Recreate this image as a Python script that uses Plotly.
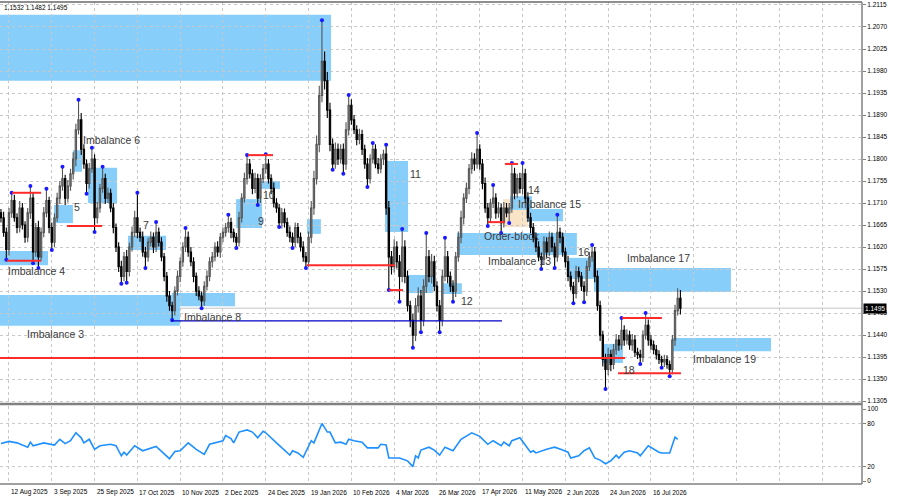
import plotly.graph_objects as go

# EURUSD daily. Prices in pips above 1.1000, bar 0 = 12 Aug 2025
first_bar = -3
first_open = 690

closes = [
    680, 650, 615, 690, 715, 680, 660, 700, 665, 640,
    690, 720, 610, 660, 600, 650, 690, 715, 660, 630,
    680, 720, 745, 760, 720, 745, 770, 800, 860, 880,
    820, 790, 750, 780, 800, 680, 700, 740, 760, 720,
    730, 700, 660, 620, 580, 560, 600, 570, 620, 650,
    680, 650, 640, 610, 600, 630, 640, 620, 650, 630,
    600, 560, 520, 500, 490, 530, 560, 590, 620, 640,
    610, 590, 560, 530, 520, 510, 540, 560, 590, 600,
    620, 610, 640, 650, 660, 670, 650, 640, 630, 680,
    720, 760, 790, 770, 740, 760, 720, 760, 780, 790,
    760, 740, 710, 700, 670, 690, 670, 650, 640, 630,
    660, 640, 620, 600, 590, 640, 700, 760, 830, 930,
    1000, 960, 900, 830, 790, 820, 800, 820, 790, 860,
    910, 880, 860, 840, 850, 820, 790, 760, 800, 820,
    790, 780, 800, 810, 700, 600, 580, 620, 590, 560,
    620, 560, 500, 470, 440, 500, 520, 470, 540, 600,
    560, 590, 540, 500, 470, 560, 600, 560, 540, 530,
    600, 640, 680, 720, 740, 780, 800, 790, 820, 790,
    750, 700, 680, 710, 720, 690, 700, 670, 700, 690,
    700, 770, 730, 760, 740, 770, 720, 680, 660, 640,
    620, 600, 595, 630, 610, 640, 620, 600, 650, 640,
    610, 590, 560, 540, 525, 570, 560, 540, 530, 580,
    600, 610, 560, 500, 440, 390, 370, 400, 380, 410,
    430, 420, 450, 430, 440, 420, 430, 405, 400, 395,
    440, 460, 430, 420, 410, 400, 390, 385, 390, 380,
    370, 430, 490, 515, 495,
]

wick_up = [
    8, 12, 10, 10, 16, 12, 9, 14, 10, 8,
    10, 25, 12, 9, 14, 10, 12, 24, 8, 10,
    9, 11, 10, 24, 8, 12, 10, 14, 12, 41,
    14, 10, 9, 12, 23, 10, 12, 9, 24, 10,
    12, 9, 10, 8, 10, 12, 10, 14, 9, 12,
    14, 51, 10, 12, 10, 9, 12, 10, 21, 10,
    10, 8, 9, 10, 8, 10, 12, 9, 10, 19,
    12, 10, 9, 8, 10, 9, 10, 12, 9, 10,
    10, 12, 9, 10, 9, 16, 10, 8, 9, 12,
    10, 12, 18, 10, 9, 12, 10, 9, 10, 20,
    10, 9, 12, 10, 8, 10, 9, 10, 12, 10,
    10, 9, 10, 12, 10, 12, 14, 16, 18, 20,
    84, 20, 18, 15, 12, 14, 12, 10, 12, 15,
    21, 12, 10, 9, 12, 10, 9, 12, 10, 13,
    10, 12, 10, 9, 19, 14, 12, 16, 12, 14,
    37, 14, 12, 10, 14, 16, 18, 12, 14, 49,
    14, 16, 12, 10, 12, 14, 39, 12, 10, 12,
    10, 12, 14, 10, 12, 10, 14, 12, 33, 10,
    10, 12, 10, 9, 27, 10, 12, 9, 12, 10,
    10, 22, 12, 10, 12, 22, 10, 12, 10, 9,
    10, 12, 9, 12, 10, 12, 10, 9, 36, 10,
    10, 9, 12, 10, 9, 12, 10, 9, 10, 12,
    10, 14, 10, 12, 10, 9, 12, 14, 10, 12,
    12, 10, 25, 10, 12, 9, 12, 10, 9, 10,
    10, 25, 12, 10, 9, 10, 9, 8, 10, 9,
    8, 10, 12, 21, 17,
]

wick_dn = [
    10, 9, 21, 12, 10, 8, 12, 10, 9, 11,
    10, 12, 23, 10, 23, 8, 10, 9, 12, 16,
    10, 8, 12, 10, 14, 9, 10, 12, 15, 10,
    12, 10, 21, 10, 8, 29, 12, 10, 9, 12,
    10, 9, 12, 10, 11, 15, 10, 23, 10, 9,
    10, 12, 9, 10, 23, 10, 9, 12, 10, 9,
    9, 10, 12, 10, 19, 10, 9, 12, 10, 10,
    10, 9, 12, 10, 9, 15, 10, 9, 10, 12,
    9, 10, 12, 10, 9, 10, 12, 10, 12, 9,
    10, 9, 12, 10, 12, 10, 14, 10, 9, 10,
    10, 12, 9, 10, 9, 12, 10, 9, 10, 12,
    10, 12, 9, 10, 13, 10, 12, 14, 12, 16,
    14, 18, 16, 14, 12, 10, 12, 9, 20, 12,
    12, 10, 9, 12, 10, 12, 10, 17, 10, 9,
    9, 10, 9, 12, 14, 68, 16, 12, 14, 52,
    12, 14, 12, 14, 26, 12, 14, 24, 12, 14,
    12, 14, 10, 12, 24, 12, 10, 14, 12, 22,
    12, 10, 12, 14, 10, 12, 10, 14, 10, 12,
    12, 10, 17, 9, 10, 12, 10, 21, 10, 9,
    21, 10, 12, 9, 10, 12, 10, 9, 12, 10,
    10, 9, 20, 10, 12, 9, 10, 23, 10, 12,
    10, 12, 10, 9, 20, 10, 12, 10, 23, 10,
    9, 10, 12, 10, 12, 14, 40, 12, 14, 10,
    10, 12, 10, 12, 9, 10, 12, 10, 9, 14,
    10, 9, 12, 10, 9, 10, 9, 12, 10, 9,
    14, 10, 12, 10, 13,
]

frac_high_bars = [1, 8, 14, 20, 26, 31, 35, 48, 55, 66, 82, 89, 96, 117, 127, 136,
                  141, 147, 156, 163, 175, 181, 188, 192, 205, 218, 229, 238]
frac_low_bars = [-1, 9, 11, 16, 29, 32, 42, 44, 51, 61, 72, 85, 93, 101, 106, 111,
                 121, 125, 134, 142, 146, 151, 154, 161, 166, 179, 184, 187, 199,
                 204, 211, 215, 223, 236, 244, 247]

rsi_bars = [-3, 0, 3, 7, 8, 9, 13, 15, 17, 19, 21, 23, 25, 27, 28, 30, 32, 34, 38, 40,
            42, 43, 44, 47, 50, 55, 58, 60, 62, 64, 67, 70, 73, 75, 80, 81, 83, 84, 86, 89,
            91, 93, 95, 96, 100, 103, 105, 106, 108, 110, 113, 114, 116, 117, 119, 120,
            122, 124, 126, 127, 129, 132, 134, 138, 139, 141, 142, 146, 149, 151, 152,
            153, 154, 157, 159, 161, 163, 166, 169, 173, 176, 179, 181, 184, 185, 187,
            188, 191, 193, 195, 196, 197, 201, 204, 207, 209, 210, 213, 215, 217, 219,
            221, 223, 225, 227, 228, 230, 232, 235, 236, 239, 241, 243, 244, 247, 249, 250]
rsi_values = [52, 55, 53, 47, 54, 49, 53, 52, 50, 58, 52, 56, 67, 60, 53, 58, 44, 49, 51, 49,
              35, 40, 36, 49, 42, 48, 37, 31, 41, 42, 53, 44, 37, 51, 56, 63, 59, 53, 68, 71,
              68, 60, 69, 67, 53, 43, 36, 42, 39, 33, 56, 53, 71, 80, 68, 68, 53, 54, 51, 58,
              56, 54, 46, 46, 51, 50, 32, 32, 28, 20, 35, 32, 43, 47, 43, 36, 47, 42, 58, 67,
              62, 51, 56, 49, 54, 49, 56, 60, 50, 40, 42, 39, 44, 47, 43, 40, 32, 35, 42, 46,
              32, 29, 24, 28, 36, 32, 40, 42, 39, 35, 49, 44, 40, 39, 39, 61, 58]

date_labels = ["12 Aug 2025", "3 Sep 2025", "25 Sep 2025", "17 Oct 2025", "10 Nov 2025",
               "2 Dec 2025", "24 Dec 2025", "19 Jan 2026", "10 Feb 2026", "4 Mar 2026",
               "26 Mar 2026", "17 Apr 2026", "11 May 2026", "2 Jun 2026", "24 Jun 2026",
               "16 Jul 2026"]
price_labels = ["1.1305", "1.1350", "1.1395", "1.1440", "1.1485", "1.1530", "1.1575",
                "1.1620", "1.1665", "1.1710", "1.1755", "1.1800", "1.1845", "1.1890",
                "1.1935", "1.1980", "1.2025", "1.2070", "1.2115"]
rsi_labels = ["0", "20", "80", "100"]
rsi_levels = [20, 80]

# imbalance zones: bar span and price span (pips)
zone_start = [-4, -4, -4, 16.8, 23.9, 29.5, 44.5, 60.9, 84.9, 93.1, 111.4, 140.6,
              148.8, 161.5, 167.5, 187.3, 193.6, 209.3, 218.7, 221.7, 247.9]
zone_end = [120.4, 63.9, 14.6, 23.9, 27.3, 40.4, 58.7, 84.5, 94.6, 101.3, 116.6, 149.2,
            158.5, 169.3, 212.3, 195.5, 207.1, 218.7, 269.9, 229.5, 284.9]
zone_low = [960, 459, 583, 669, 774, 710, 614, 499, 659, 739, 647, 651,
            526, 524, 604, 696, 673, 555, 528, 383, 407]
zone_high = [1095, 522, 612, 706, 818, 782, 643, 526, 718, 755, 677, 796,
             563, 546, 649, 724, 698, 598, 577, 422, 434]
ob_start, ob_end, ob_low, ob_high = 184.7, 194.0, 661, 718

# horizontal levels
level_start = [1.1, -0.7, 21.7, 60.6, 89.3, 111.4, 142, -4, 179, 185.4, 229.2, 227.7]
level_end = [12, 12, 34.8, 184.3, 98.7, 144.3, 147.3, 230.3, 185.4, 190.3, 244.1, 251.2]
level_pips = [731, 592, 663, 469, 808, 583, 532, 393, 671, 790, 475, 362]
level_blue = [False, False, False, True, False, False, False, False, False, False, False, False]

label_text = ["Imbalance 6", "5", "Imbalance 4", "7", "Imbalance 3", "Imbalance 8", "9", "10",
              "11", "12", "14", "Imbalance 15", "Order-block", "Imbalance 13", "16",
              "Imbalance 17", "18", "Imbalance 19"]
label_bar = [27.3, 23.9, -0.7, 49.6, 6.3, 65, 92.7, 94.6, 149.5, 168.6, 193.6, 189.9,
             177.2, 178.7, 212.3, 230.7, 229.2, 255.3]
label_pips = [839, 702, 571, 665, 442, 477, 673, 726, 769, 510, 737, 708, 643, 591, 610,
              598, 369, 391]

ohlc_text = "1.1532 1.1482 1.1495"
last_price = 1.1495


def px(p):
    return 1.1 + p / 10000.0


bars = list(range(first_bar, first_bar + len(closes)))
opens = [first_open] + closes[:-1]
highs = [max(o, c) + u for o, c, u in zip(opens, closes, wick_up)]
lows = [min(o, c) - d for o, c, d in zip(opens, closes, wick_dn)]

fig = go.Figure()

fig.add_trace(go.Candlestick(
    x=bars, open=[px(v) for v in opens], high=[px(v) for v in highs],
    low=[px(v) for v in lows], close=[px(v) for v in closes],
    increasing=dict(line=dict(color="#555555", width=1.1), fillcolor="#a6a6a6"),
    decreasing=dict(line=dict(color="#000000", width=1.1), fillcolor="#000000"),
    whiskerwidth=0, showlegend=False, hoverinfo="skip",
    xaxis="x", yaxis="y"))

fh = [highs[b - first_bar] for b in frac_high_bars]
fl = [lows[b - first_bar] for b in frac_low_bars]
fig.add_trace(go.Scatter(
    x=frac_high_bars + frac_low_bars, y=[px(v) for v in fh + fl], mode="markers",
    marker=dict(color="#1a1aff", size=4), showlegend=False, hoverinfo="skip",
    xaxis="x", yaxis="y"))

fig.add_trace(go.Scatter(
    x=rsi_bars, y=rsi_values, mode="lines", line=dict(color="#1e90ff", width=1.6),
    showlegend=False, hoverinfo="skip", xaxis="x2", yaxis="y2"))

shapes = []
shapes.append(dict(type="rect", xref="x", yref="y", x0=ob_start, x1=ob_end,
                   y0=px(ob_low), y1=px(ob_high), fillcolor="#f9e4c8",
                   line=dict(width=0), layer="below"))
for x0, x1, lo, hi in zip(zone_start, zone_end, zone_low, zone_high):
    shapes.append(dict(type="rect", xref="x", yref="y", x0=x0, x1=x1,
                       y0=px(lo), y1=px(hi), fillcolor="#87cefa",
                       line=dict(width=0), layer="below"))

shapes.append(dict(type="line", xref="paper", yref="y", x0=0, x1=1, y0=last_price,
                   y1=last_price, line=dict(color="#c4c4c4", width=1), layer="below"))

for x0, x1, p, blue in zip(level_start, level_end, level_pips, level_blue):
    shapes.append(dict(type="line", xref="x", yref="y", x0=x0, x1=x1, y0=px(p), y1=px(p),
                       line=dict(color="#0000c8" if blue else "#ff2a2a",
                                 width=1.4 if blue else 2), layer="above"))

for lv in rsi_levels:
    shapes.append(dict(type="line", xref="paper", yref="y2", x0=0, x1=1, y0=lv, y1=lv,
                       line=dict(color="#c8c8c8", width=1, dash="dot"), layer="below"))

# frame
frame = "#808080"
shapes += [
    dict(type="line", xref="paper", yref="paper", x0=0, x1=1, y0=1, y1=1,
         line=dict(color="#6a6a6a", width=1.5)),
    dict(type="line", xref="paper", yref="paper", x0=0, x1=1, y0=0.166, y1=0.166,
         line=dict(color=frame, width=2.5)),
    dict(type="line", xref="paper", yref="paper", x0=0, x1=1, y0=0, y1=0,
         line=dict(color=frame, width=1.5)),
    dict(type="line", xref="paper", yref="paper", x0=1, x1=1, y0=0, y1=1,
         line=dict(color=frame, width=1.5)),
]

annotations = []
for t, b, p in zip(label_text, label_bar, label_pips):
    annotations.append(dict(x=b, y=px(p), xref="x", yref="y", text=t, showarrow=False,
                            xanchor="left", yanchor="middle", borderpad=0,
                            font=dict(family="Liberation Sans", size=10.5, color="#3a3a3a")))

for i, t in enumerate(date_labels):
    annotations.append(dict(x=i * 16, y=-0.017, xref="x2", yref="paper", text=t,
                            showarrow=False, xanchor="left", yanchor="middle",
                            font=dict(family="Liberation Sans", size=6.5, color="#000000")))

annotations.append(dict(x=0.002, y=0.988, xref="paper", yref="paper", text=ohlc_text,
                        showarrow=False, xanchor="left", yanchor="middle",
                        font=dict(family="Liberation Sans", size=6.5, color="#000000")))
annotations.append(dict(x=1, y=last_price, xref="paper", yref="y", text="1.1495",
                        showarrow=False, xanchor="left", yanchor="middle", xshift=1,
                        bgcolor="#000000", borderpad=1,
                        font=dict(family="Liberation Sans", size=6.5, color="#ffffff")))

grid_ticks = list(range(0, 320, 16))
axis_font = dict(family="Liberation Sans", size=6.5, color="#000000")

fig.update_layout(
    width=900, height=500,
    margin=dict(l=0, r=38, t=2, b=16),
    paper_bgcolor="#ffffff", plot_bgcolor="#ffffff",
    showlegend=False, hovermode=False,
    shapes=shapes, annotations=annotations,
    xaxis=dict(range=[-3.36, 318.9], tickvals=grid_ticks, showticklabels=False,
               showgrid=True, gridcolor="#c8c8c8", griddash="dot", gridwidth=1,
               zeroline=False, rangeslider=dict(visible=False), anchor="y",
               domain=[0, 1], fixedrange=True),
    xaxis2=dict(range=[-3.36, 318.9], tickvals=grid_ticks, showticklabels=False,
                showgrid=True, gridcolor="#c8c8c8", griddash="dot", gridwidth=1,
                zeroline=False, anchor="y2", matches="x", domain=[0, 1]),
    yaxis=dict(domain=[0.168, 1], range=[1.13011, 1.21211], side="right",
               tickvals=[float(v) for v in price_labels], ticktext=price_labels,
               tickfont=axis_font, ticks="outside", ticklen=3, tickcolor="#808080",
               showgrid=True, gridcolor="#c8c8c8", griddash="dot", gridwidth=1,
               zeroline=False, anchor="x"),
    yaxis2=dict(domain=[0, 0.1618], range=[-4.17, 104.2], side="right",
                tickvals=[float(v) for v in rsi_labels], ticktext=rsi_labels,
                tickfont=axis_font, ticks="outside", ticklen=3, tickcolor="#808080",
                showgrid=False, zeroline=False, anchor="x2"),
)

# drop the page's default 8px body margin so the 900x500 figure fills the window
fig.write_html("out.html", config={"displayModeBar": False},
               post_script="document.body.style.margin='0';document.body.style.overflow='hidden';")
